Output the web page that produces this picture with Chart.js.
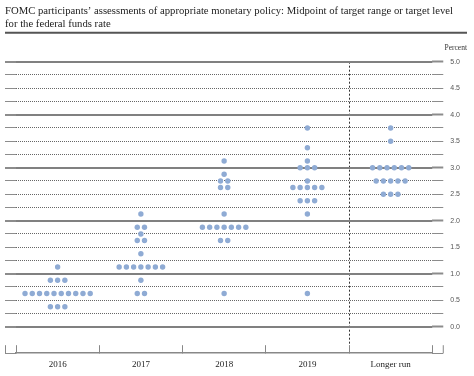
<!DOCTYPE html>
<html>
<head>
<meta charset="utf-8">
<script src="https://cdn.jsdelivr.net/npm/chart.js@4/dist/chart.umd.min.js"></script>
<style>
  html, body { margin: 0; padding: 0; background: #ffffff; }
  #wrap { width: 474px; height: 376px; }
</style>
</head>
<body>
<div id="wrap"><canvas id="dotChart" width="474" height="376"></canvas></div>
<script>
const titleLines = [
  "FOMC participants’ assessments of appropriate monetary policy: Midpoint of target range or target level",
  "for the federal funds rate",
];
const unitLabel = "Percent";

const categories = ["2016", "2017", "2018", "2019", "Longer run"];

// rate level and number of participants at that level, per column
const rates2016 = [1.125, 0.875, 0.625, 0.375];
const counts2016 = [1, 3, 10, 3];

const rates2017 = [2.125, 1.875, 1.75, 1.625, 1.375, 1.125, 0.875, 0.625];
const counts2017 = [1, 2, 1, 2, 1, 7, 1, 2];

const rates2018 = [3.125, 2.875, 2.75, 2.625, 2.125, 1.875, 1.625, 0.625];
const counts2018 = [1, 1, 2, 2, 1, 7, 2, 1];

const rates2019 = [3.75, 3.375, 3.125, 3.0, 2.75, 2.625, 2.375, 2.125, 0.625];
const counts2019 = [1, 1, 1, 3, 1, 5, 3, 1, 1];

const ratesLonger = [3.75, 3.5, 3.0, 2.75, 2.5];
const countsLonger = [1, 1, 6, 5, 3];

const columns = [
  [rates2016, counts2016],
  [rates2017, counts2017],
  [rates2018, counts2018],
  [rates2019, counts2019],
  [ratesLonger, countsLonger],
];

const dotGap = 0.087; // spacing between dots in a row, in column widths

function buildDots() {
  const points = [];
  columns.forEach(([rates, counts], col) => {
    rates.forEach((rate, i) => {
      const n = counts[i];
      for (let k = 0; k < n; k++) {
        points.push({ x: col + 0.5 + (k - (n - 1) / 2) * dotGap, y: rate });
      }
    });
  });
  return points;
}

const isWhole = (v) => Math.abs(v - Math.round(v)) < 1e-6;
const inRange = (v) => v > -0.01 && v < 5.01;

const rulePlugin = {
  id: "rule",
  afterDraw(chart) {
    const ctx = chart.ctx;
    const y = chart.titleBlock.bottom - 1;
    ctx.save();
    ctx.strokeStyle = "#555555";
    ctx.lineWidth = 2;
    ctx.beginPath();
    ctx.moveTo(5, y);
    ctx.lineTo(467, y);
    ctx.stroke();

    // little end ticks on the base line
    const base = chart.scales.y.getPixelForValue(-0.5);
    const xl = chart.scales.yL.left + 0.5;
    const xr = chart.scales.y.left + 11;
    ctx.strokeStyle = "#888888";
    ctx.lineWidth = 1;
    ctx.beginPath();
    ctx.moveTo(xl, base);
    ctx.lineTo(xl, base - 8);
    ctx.moveTo(xr, base);
    ctx.lineTo(xr, base - 8);
    ctx.stroke();
    ctx.restore();
  },
};

new Chart(document.getElementById("dotChart"), {
  type: "scatter",
  data: {
    datasets: [
      {
        label: "Participants",
        data: buildDots(),
        backgroundColor: "#8fabd4",
        borderWidth: 0,
        pointRadius: 2.7,
        pointHoverRadius: 2.7,
      },
    ],
  },
  options: {
    responsive: false,
    animation: false,
    layout: { padding: { left: 5, right: 7, top: 5, bottom: -8 } },
    plugins: {
      legend: { display: false },
      tooltip: { enabled: false },
      title: {
        display: true,
        text: titleLines,
        align: "start",
        color: "#222222",
        font: { family: "Liberation Serif", size: 10.7, weight: "normal", lineHeight: 1.2 },
        padding: { top: 0, bottom: 3 },
      },
      subtitle: {
        display: true,
        text: unitLabel,
        align: "end",
        color: "#333333",
        font: { family: "Liberation Serif", size: 7.5, lineHeight: 1.2 },
        padding: { top: 10, bottom: 9 },
      },
    },
    scales: {
      x: {
        type: "linear",
        position: "bottom",
        min: 0,
        max: 5,
        ticks: {
          stepSize: 0.5,
          autoSkip: false,
          maxRotation: 0,
          padding: 14,
          color: "#222222",
          font: { family: "Liberation Serif", size: 9 },
          callback: (v) => (isWhole(v) ? "" : categories[Math.floor(v)]),
        },
        grid: {
          drawTicks: true,
          tickLength: -8,
          color: (c) => (c.tick && Math.abs(c.tick.value - 4) < 1e-6 ? "#333333" : "rgba(0,0,0,0)"),
          tickColor: (c) => (c.tick && isWhole(c.tick.value) ? "#888888" : "rgba(0,0,0,0)"),
          lineWidth: 1,
        },
        border: { display: true, color: "#888888", width: 1.5, dash: [2, 2] },
      },
      yL: {
        type: "linear",
        position: "left",
        min: -0.5,
        max: 5,
        ticks: { display: false, stepSize: 0.25 },
        grid: {
          drawTicks: true,
          tickLength: 11,
          color: (c) => (c.tick && inRange(c.tick.value) && isWhole(c.tick.value) ? "#808080" : "rgba(0,0,0,0)"),
          lineWidth: (c) => (c.tick && isWhole(c.tick.value) ? 2 : 1),
          tickColor: (c) => (c.tick && Math.abs(c.tick.value + 0.25) < 1e-6 ? "rgba(0,0,0,0)" : "#8c8c8c"),
          tickWidth: (c) => (c.tick && isWhole(c.tick.value) && c.tick.value >= 0 ? 2 : 1),
        },
        border: { display: false },
      },
      y: {
        type: "linear",
        position: "right",
        min: -0.5,
        max: 5,
        ticks: {
          stepSize: 0.25,
          autoSkip: false,
          padding: 7,
          color: "#555555",
          font: { family: "Liberation Sans", size: 7 },
          callback: (v) => (v >= 0 && Math.abs(v * 2 - Math.round(v * 2)) < 1e-6 ? v.toFixed(1) : ""),
        },
        grid: {
          drawTicks: true,
          tickLength: 11,
          color: (c) => (c.tick && inRange(c.tick.value) && !isWhole(c.tick.value) ? "#666666" : "rgba(0,0,0,0)"),
          lineWidth: 1,
          tickColor: (c) => (c.tick && Math.abs(c.tick.value + 0.25) < 1e-6 ? "rgba(0,0,0,0)" : "#8c8c8c"),
          tickWidth: (c) => (c.tick && isWhole(c.tick.value) && c.tick.value >= 0 ? 2 : 1),
        },
        border: { display: false, dash: [1, 1] },
      },
    },
  },
  plugins: [rulePlugin],
});
</script>
</body>
</html>
